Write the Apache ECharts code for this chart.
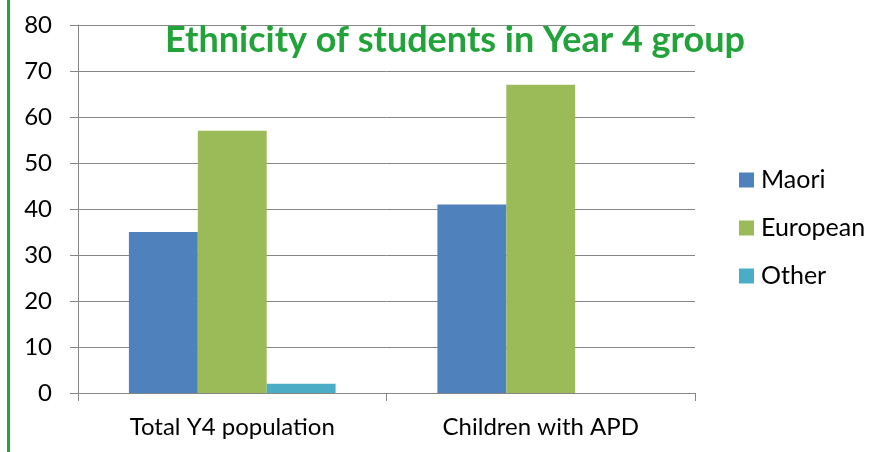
<!DOCTYPE html>
<html>
<head>
<meta charset="utf-8">
<script src="https://cdn.jsdelivr.net/npm/echarts@6/dist/echarts.min.js"></script>
<style>
html,body{margin:0;padding:0;background:#fff;}
#chart{width:879px;height:452px;position:relative;}
#bar{position:absolute;left:7px;top:0;width:3px;height:452px;background:#22a83a;}
</style>
</head>
<body>
<div id="chart"></div>
<div id="bar"></div>
<script>
const categories = ['Total Y4 population', 'Children with APD'];
const maori = [35, 41];
const european = [57, 67];
const other = [2, 0];
const yTicks = { min: 0, max: 80, interval: 10 };

const chart = echarts.init(document.getElementById('chart'));
const font = 'Lato, "Open Sans", sans-serif';
chart.setOption({
  animation: false,
  title: {
    text: 'Ethnicity of students in Year 4 group',
    left: 450, top: 17, textAlign: 'center',
    textStyle: { color: '#22a33a', fontSize: 36, fontWeight: 'bold', fontFamily: font }
  },
  legend: {
    orient: 'vertical', left: 739, top: 167, padding: 0,
    itemWidth: 15, itemHeight: 15, itemGap: 22,
    icon: 'rect',
    textStyle: { fontSize: 25, lineHeight: 26, color: '#000', fontFamily: font, padding: [0,0,0,2] },
    data: ['Maori', 'European', 'Other']
  },
  grid: { left: 78, right: 879 - 695, top: 25, bottom: 452 - 393, containLabel: false },
  xAxis: {
    type: 'category', data: categories,
    axisLine: { lineStyle: { color: '#868686', width: 1 } },
    axisTick: { show: true, length: 8, lineStyle: { color: '#868686' } },
    axisLabel: { fontSize: 24, color: '#000', margin: 22, fontFamily: font },
    z: 5
  },
  yAxis: {
    type: 'value', min: yTicks.min, max: yTicks.max, interval: yTicks.interval,
    axisLine: { show: true, lineStyle: { color: '#868686', width: 1 } },
    axisTick: { show: true, length: 8, lineStyle: { color: '#868686' } },
    splitLine: { lineStyle: { color: '#868686', width: 1 } },
    axisLabel: { fontSize: 24, color: '#000', margin: 26, fontFamily: font }
  },
  series: [
    { name: 'Maori', type: 'bar', data: maori, itemStyle: { color: '#4f81bd' }, barGap: '0%', barCategoryGap: '33%' },
    { name: 'European', type: 'bar', data: european, itemStyle: { color: '#9bbb59' } },
    { name: 'Other', type: 'bar', data: other, itemStyle: { color: '#4bacc6' } }
  ]
});
</script>
</body>
</html>
